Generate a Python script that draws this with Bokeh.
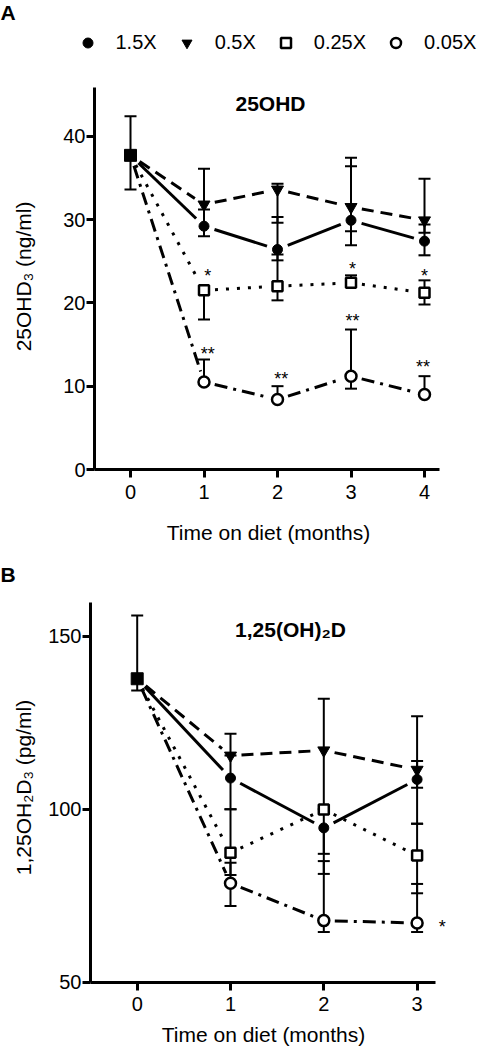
import math
from bokeh.plotting import figure
from bokeh.models import Range1d, Label, Legend, LegendItem, FixedTicker
from bokeh.layouts import column
from bokeh.embed import file_html
from bokeh.resources import INLINE
from bokeh.core.properties import value

FONT = "Liberation Sans"

# ---------------- data: panel A, 25OHD3 (ng/ml) ----------------
a_months = [1, 2, 3, 4]
a_xticks = [0, 1, 2, 3, 4]
a_yticks = [0, 10, 20, 30, 40]
a_base = 37.7
a_base_hi = 42.4
a_base_lo = 33.6

a_15_mean = [29.2, 26.4, 29.9, 27.4]
a_15_hi = [31.2, 30.3, 36.4, 29.4]
a_15_lo = [28.0, 25.1, 28.6, 25.7]

a_05_mean = [31.8, 33.6, 31.5, 29.9]
a_05_hi = [36.1, 34.3, 37.4, 34.9]
a_05_lo = [31.8, 29.6, 26.9, 28.4]

a_025_mean = [21.5, 22.0, 22.4, 21.2]
a_025_hi = [21.5, 25.8, 23.3, 22.7]
a_025_lo = [18.0, 20.3, 22.4, 19.8]

a_005_mean = [10.5, 8.4, 11.2, 9.0]
a_005_hi = [13.2, 10.0, 16.8, 11.2]
a_005_lo = [10.5, 8.4, 9.7, 9.0]

a_star1_x = [1.05, 3.02, 4.0]
a_star1_y = [23.7, 24.5, 23.7]
a_star2_x = [1.05, 2.05, 3.02, 3.98]
a_star2_y = [14.3, 11.4, 18.3, 12.8]

# ---------------- data: panel B, 1,25OH2D3 (pg/ml) ----------------
b_months = [1, 2, 3]
b_xticks = [0, 1, 2, 3]
b_yticks = [50, 100, 150]
b_base = 137.7
b_base_hi = 156.0
b_base_lo = 134.3

b_15_mean = [109.0, 94.6, 108.6]
b_15_hi = [115.5, 94.6, 126.9]
b_15_lo = [100.0, 81.3, 95.8]

b_05_mean = [115.5, 117.0, 111.4]
b_05_hi = [121.8, 131.9, 113.9]
b_05_lo = [115.5, 100.0, 106.2]

b_025_mean = [87.4, 99.9, 86.6]
b_025_hi = [100.0, 99.9, 95.8]
b_025_lo = [81.0, 87.1, 75.7]

b_005_mean = [78.6, 67.8, 67.1]
b_005_hi = [84.5, 85.0, 78.4]
b_005_lo = [72.0, 64.5, 64.5]

b_star1_x = [3.27]
b_star1_y = [67.1]

groups = ["1.5X", "0.5X", "0.25X", "0.05X"]

# ---------------- layout geometry (pixels) ----------------
W = 480
A_H = 548
B_H = 500
A_X0, A_KX, A_Y0, A_KY = 130.0, 73.5, 469.0, 8.333
B_X0, B_KX, B_Y0, B_KY, B_YBASE = 136.7, 93.3, 433.7, 3.46, 50.0


def xa(px):
    return (px - A_X0) / A_KX


def ya(py):
    return (A_Y0 - py) / A_KY


def xb(px):
    return (px - B_X0) / B_KX


def yb(py):
    return B_YBASE + (B_Y0 - py) / B_KY


def style_axes(p, xticks, yticks, xbounds, ybounds):
    for ax in p.axis:
        ax.axis_line_width = 3
        ax.axis_line_color = "black"
        ax.major_tick_line_width = 3
        ax.major_tick_line_color = "black"
        ax.major_tick_out = 8
        ax.major_tick_in = 0
        ax.minor_tick_line_color = None
        ax.major_label_text_font_size = "20px"
        ax.major_label_text_font = FONT
        ax.major_label_text_color = "black"
    p.xaxis.ticker = FixedTicker(ticks=xticks)
    p.yaxis.ticker = FixedTicker(ticks=yticks)
    p.xaxis.major_label_standoff = 7
    p.yaxis.major_label_standoff = 1
    p.xaxis.bounds = xbounds
    p.yaxis.bounds = ybounds
    p.xaxis.fixed_location = ybounds[0]
    p.yaxis.fixed_location = xbounds[0]
    p.grid.visible = False
    p.outline_line_color = None


def gapped(xs, ys, kx, ky, g):
    X0, Y0, X1, Y1 = [], [], [], []
    for i in range(len(xs) - 1):
        dx = (xs[i + 1] - xs[i]) * kx
        dy = (ys[i + 1] - ys[i]) * ky
        f = g / math.hypot(dx, dy)
        X0.append(xs[i] + (xs[i + 1] - xs[i]) * f)
        Y0.append(ys[i] + (ys[i + 1] - ys[i]) * f)
        X1.append(xs[i + 1] - (xs[i + 1] - xs[i]) * f)
        Y1.append(ys[i + 1] - (ys[i + 1] - ys[i]) * f)
    return X0, Y0, X1, Y1


STY = {
    "1.5X": dict(marker="circle", size=10, fill="black", lw=1, dash="solid"),
    "0.5X": dict(marker="inverted_triangle", size=12, fill="black", lw=1, dash="12 7"),
    "0.25X": dict(marker="square", size=10, fill="white", lw=2.5, dash="3 8"),
    "0.05X": dict(marker="circle", size=11, fill="white", lw=2.5, dash="13 6 3 6"),
}


def panel(p, months, base, base_hi, base_lo, series, kx, ky):
    for name, mean, hi, lo in series:
        s = STY[name]
        x0, y0, x1, y1 = gapped([0] + months, [base] + mean, kx, ky, 11)
        p.segment(x0=x0, y0=y0, x1=x1, y1=y1, line_width=3, line_color="black",
                  line_dash=s["dash"])
    p.segment(x0=[0, 0], y0=[base, base], x1=[0, 0], y1=[base_hi, base_lo],
              line_width=2, line_color="black")
    p.scatter(x=[0, 0], y=[base_hi, base_lo], marker="dash", size=12, line_width=2,
              line_color="black")
    for name, mean, hi, lo in series:
        ex, ey0, ey1 = [], [], []
        for m, mu, h, l in zip(months, mean, hi, lo):
            for e in (h, l):
                if abs(e - mu) > 1e-9:
                    ex.append(m)
                    ey0.append(mu)
                    ey1.append(e)
        p.segment(x0=ex, y0=ey0, x1=ex, y1=ey1, line_width=2, line_color="black")
        p.scatter(x=ex, y=ey1, marker="dash", size=12, line_width=2, line_color="black")
    p.scatter(x=[0], y=[base], marker="square", size=12, fill_color="black",
              line_color="black")
    rs = {}
    for name, mean, hi, lo in series:
        s = STY[name]
        rs[name] = p.scatter(x=months, y=mean, marker=s["marker"], size=s["size"],
                             fill_color=s["fill"], line_color="black",
                             line_width=s["lw"])
    return rs


def lab(p, x, y, text, size="21px", bold=False, angle=0.0, align="center"):
    p.add_layout(Label(x=x, y=y, text=text, text_align=align, text_baseline="middle",
                       text_font=FONT, text_font_size=size, angle=angle,
                       text_font_style="bold" if bold else "normal",
                       text_color="black"))


# ---------------- Panel A ----------------
pA = figure(width=W, height=A_H, x_range=Range1d(xa(0), xa(W)),
            y_range=Range1d(ya(A_H), ya(0)), output_backend="svg",
            toolbar_location=None, title=None, min_border=0,
            background_fill_color="white")
style_axes(pA, a_xticks, a_yticks, (xa(94), 4.2), (0, 45.8))
rsA = panel(pA, a_months, a_base, a_base_hi, a_base_lo,
            [("1.5X", a_15_mean, a_15_hi, a_15_lo),
             ("0.5X", a_05_mean, a_05_hi, a_05_lo),
             ("0.25X", a_025_mean, a_025_hi, a_025_lo),
             ("0.05X", a_005_mean, a_005_hi, a_005_lo)], A_KX, A_KY)

pA.text(x=a_star1_x, y=a_star1_y, text=["*"] * len(a_star1_x), text_align="center",
        text_baseline="middle", text_font=value(FONT), text_font_size="18px", y_offset=4)
pA.text(x=a_star2_x, y=a_star2_y, text=["**"] * len(a_star2_x), text_align="center",
        text_baseline="middle", text_font=value(FONT), text_font_size="18px", y_offset=4)

lab(pA, xa(270), ya(103), "25OHD", bold=True, size="21px")
lab(pA, xa(23), ya(276), "25OHD₃ (ng/ml)", angle=math.pi / 2)
lab(pA, xa(268), ya(532), "Time on diet (months)")
lab(pA, xa(0), ya(12), "A", size="21px", bold=True, align="left")

legend = Legend(items=[LegendItem(label=g, renderers=[rsA[g]]) for g in groups],
                orientation="horizontal", location=(74.5, A_H - 54.5), glyph_width=25,
                glyph_height=25, label_standoff=16, spacing=17, padding=0, margin=0,
                border_line_color=None, background_fill_alpha=0,
                label_text_font=FONT, label_text_font_size="20px",
                label_text_color="black")
pA.add_layout(legend)

# ---------------- Panel B ----------------
pB = figure(width=W, height=B_H, x_range=Range1d(xb(0), xb(W)),
            y_range=Range1d(yb(B_H), yb(0)), output_backend="svg",
            toolbar_location=None, title=None, min_border=0,
            background_fill_color="white")
style_axes(pB, b_xticks, b_yticks, (xb(90), 3.2), (50, 159.8))
panel(pB, b_months, b_base, b_base_hi, b_base_lo,
      [("1.5X", b_15_mean, b_15_hi, b_15_lo),
       ("0.5X", b_05_mean, b_05_hi, b_05_lo),
       ("0.25X", b_025_mean, b_025_hi, b_025_lo),
       ("0.05X", b_005_mean, b_005_hi, b_005_lo)], B_KX, B_KY)
pB.text(x=b_star1_x, y=b_star1_y, text=["*"] * len(b_star1_x), text_align="center",
        text_baseline="middle", text_font=value(FONT), text_font_size="18px", y_offset=4)

lab(pB, xb(290), yb(80.8), "1,25(OH)₂D", bold=True, size="21px")
lab(pB, xb(23), yb(239), "1,25OH₂D₃ (pg/ml)", angle=math.pi / 2)
lab(pB, xb(263), yb(485.5), "Time on diet (months)")
lab(pB, xb(0), yb(26), "B", size="21px", bold=True, align="left")

layout = column(pA, pB, spacing=0)
open("out.html", "w").write(file_html(layout, INLINE))
